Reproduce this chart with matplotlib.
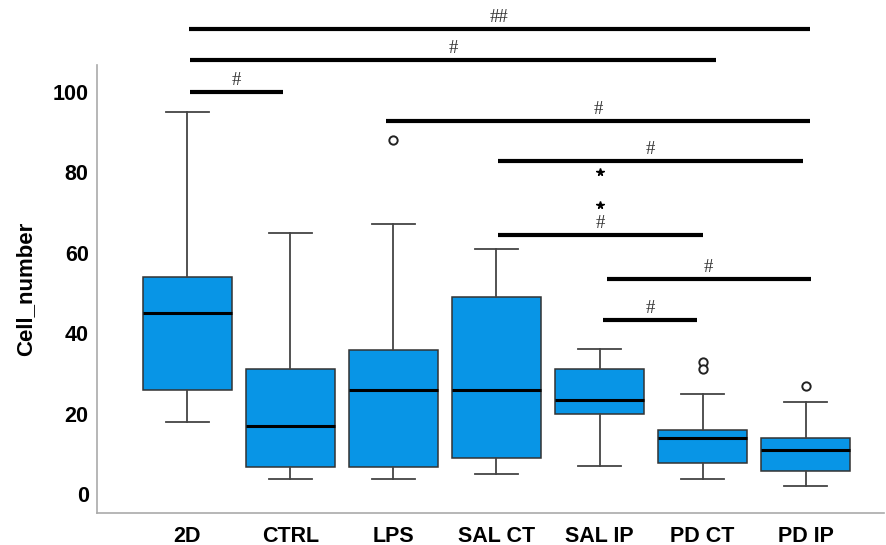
import matplotlib
matplotlib.use("Agg")
import matplotlib.pyplot as plt

# grupos y valores
grupos = ["2D", "CTRL", "LPS", "SAL CT", "SAL IP", "PD CT", "PD IP"]
bigote_inf = [18, 3.8, 3.8, 4.9, 6.9, 3.8, 1.9]
q1 = [25.9, 6.8, 6.8, 8.9, 19.8, 7.8, 5.8]
mediana = [45, 16.9, 25.9, 25.9, 23.4, 13.9, 11]
q3 = [54.1, 31, 35.9, 48.9, 31, 16, 13.9]
bigote_sup = [95.1, 65, 67.1, 61, 36, 25, 23]
atipicos = [[], [], [88], [], [], [32.9, 31], [27]]
extremos = [[], [], [], [], [80, 72], [], []]

# barras de significancia: (desde, hasta, altura, etiqueta)
sig_desde = [1.02, 1.03, 1.03, 2.93, 4.02, 4.02, 5.07, 5.03]
sig_hasta = [7.04, 6.13, 1.93, 7.04, 6.97, 6.0, 7.05, 5.95]
sig_altura = [115.7, 108, 100, 92.8, 82.9, 64.4, 53.6, 43.3]
sig_texto = ["##", "#", "#", "#", "#", "#", "#", "#"]

plt.rcParams['font.family'] = ['Liberation Sans', 'DejaVu Sans']

fig = plt.figure(figsize=(8.86, 5.45), dpi=100)
ax = fig.add_axes([97 / 886, 32 / 545, 787 / 886, 448 / 545])

stats = []
for i in range(len(grupos)):
    stats.append({
        "whislo": bigote_inf[i], "q1": q1[i], "med": mediana[i],
        "q3": q3[i], "whishi": bigote_sup[i], "fliers": atipicos[i],
        "label": grupos[i],
    })

ax.bxp(stats, positions=range(1, 8), widths=0.86, capwidths=0.42,
       patch_artist=True,
       boxprops=dict(facecolor="#0895E6", edgecolor="#333333", linewidth=1.1),
       medianprops=dict(color="black", linewidth=2.2),
       whiskerprops=dict(color="#444444", linewidth=1.3),
       capprops=dict(color="#444444", linewidth=1.3),
       flierprops=dict(marker="o", markersize=6, markerfacecolor="white",
                       markeredgecolor="#222222", markeredgewidth=1.4))

# extremos con estrella
for i, vals in enumerate(extremos):
    if vals:
        ax.plot([i + 1] * len(vals), vals, ls="none", marker="*",
                markersize=5.5, color="black")

# lineas de significancia
for x0, x1, h, t in zip(sig_desde, sig_hasta, sig_altura, sig_texto):
    ax.plot([x0, x1], [h, h], color="black", linewidth=3,
            solid_capstyle="butt", clip_on=False)
    ax.annotate(t, xy=((x0 + x1) / 2, h), xytext=(0, 2),
                textcoords="offset points", ha="center", va="bottom",
                fontsize=13.5, color="#333333", annotation_clip=False,
                family="Liberation Serif")

ax.set_xlim(0.125, 7.76)
ax.set_ylim(-4.7, 106.7)
ax.set_yticks([0, 20, 40, 60, 80, 100])
ax.set_xticks(range(1, 8))
ax.set_xticklabels(grupos)
ax.tick_params(axis="both", length=0, labelsize=15.5)
ax.tick_params(axis="x", pad=9)
ax.tick_params(axis="y", pad=6)
for lab in ax.get_xticklabels() + ax.get_yticklabels():
    lab.set_fontweight("bold")
ax.set_ylabel("Cell_number", fontsize=16, fontweight="bold", labelpad=12)

ax.spines["top"].set_visible(False)
ax.spines["right"].set_visible(False)
ax.spines["left"].set_color("#AAAAAA")
ax.spines["bottom"].set_color("#AAAAAA")
ax.spines["left"].set_linewidth(1.2)
ax.spines["bottom"].set_linewidth(1.2)

fig.savefig("out.png", dpi=100)
